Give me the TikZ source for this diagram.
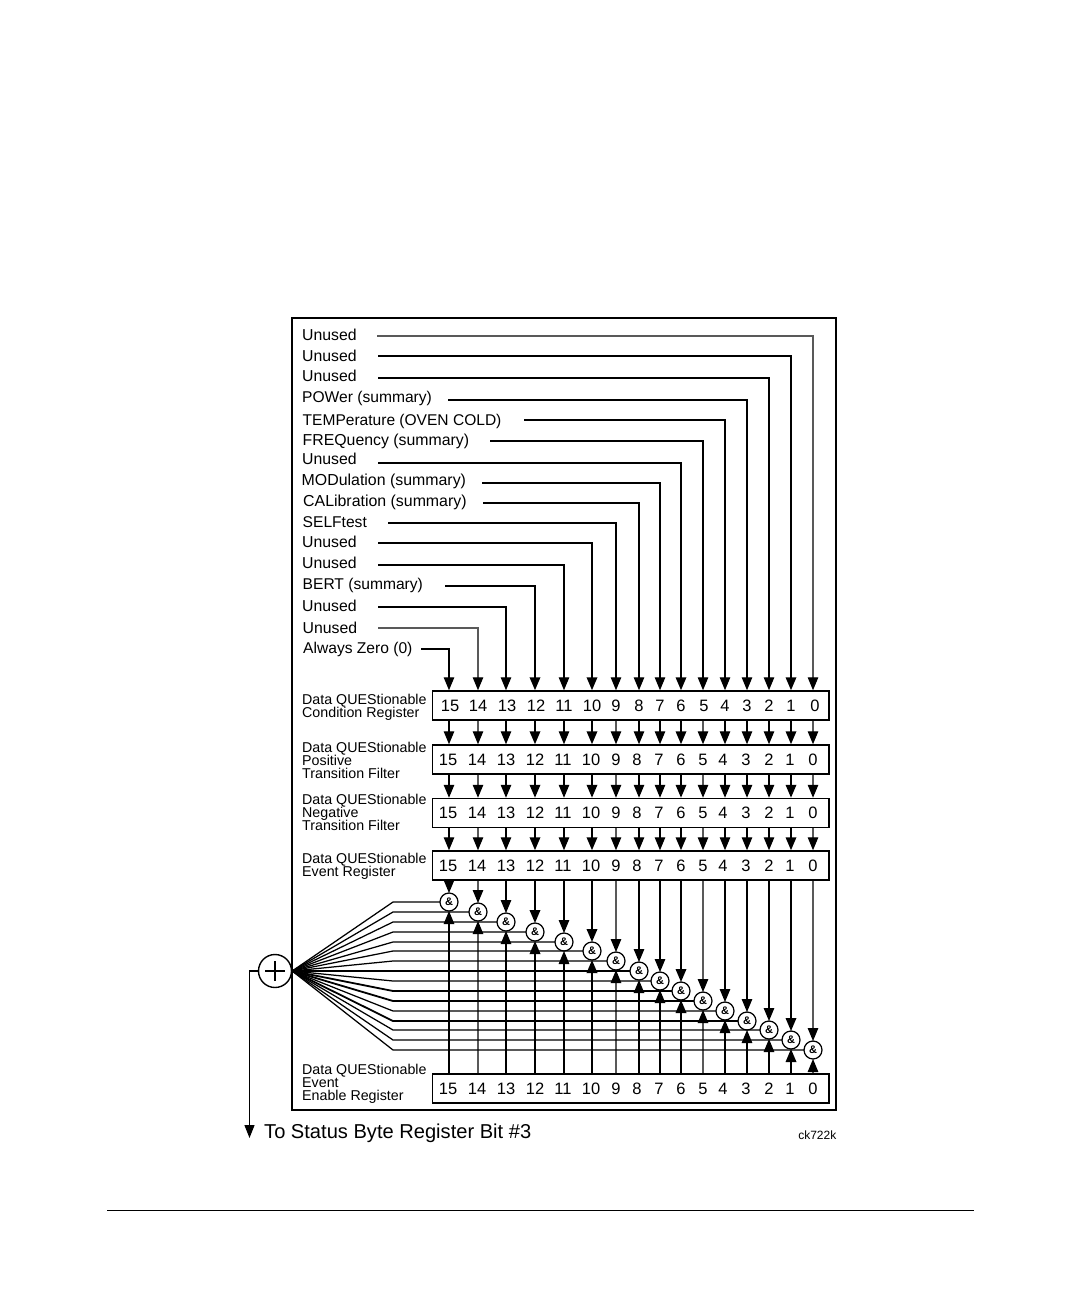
\documentclass[tikz,border=0pt]{standalone}
\usepackage{fontspec}
\setmainfont{Liberation Sans}
\usetikzlibrary{arrows.meta,calc}
\tikzset{
  conn/.style={line width=1.25pt,draw=black,line cap=butt},
  tipped/.style={conn,-{Triangle[width=10.5pt,length=13pt,black]}},
  frame/.style={draw=black,line width=1.5pt,inner sep=0pt,fill=white},
  regbox/.style={frame,minimum width=396.5pt,minimum height=29pt},
  toplabel/.style={anchor=base west,inner sep=0pt},
  reglabel/.style={anchor=base west,inner sep=0pt,align=left,font=\fontsize{14.25}{13}\selectfont},
  bitnum/.style={inner sep=0pt,font=\fontsize{16.5}{18}\selectfont,text height=11.8pt,text depth=0pt},
  andgate/.style={circle,draw=black,line width=1.25pt,fill=white,minimum size=18pt,inner sep=0pt,font=\bfseries\fontsize{11}{11}\selectfont},
  sumgate/.style={circle,draw=black,line width=1.4pt,fill=white,minimum size=33pt,inner sep=0pt},
}
\begin{document}
\begin{tikzpicture}[x=1pt,y=-1pt]
\useasboundingbox (0,0) rectangle (1080,1296);
\fill[white] (0,0) rectangle (1080,1296);
% outer frame
\node[frame,minimum width=544pt,minimum height=792pt] (outer) at (564,714) {};
% registers
\node[regbox] (r1) at (630.75,705.5) {};
\node[regbox] (r2) at (630.75,759.5) {};
\node[regbox] (r3) at (630.75,813) {};
\node[regbox] (r4) at (630.75,865.5) {};
\node[regbox] (r5) at (630.75,1088.5) {};
% column references
\foreach \b/\x in {15/449,14/478,13/506,12/535,11/564,10/592,9/616,8/639,7/660,6/681,5/703,4/725,3/747,2/769,1/791,0/813}
  \coordinate (c\b) at (\x,0);
\coordinate (fx) at (393,0);
% register numbers
\foreach \b/\xa/\xb in {15/450/448,14/478/477,13/507/506,12/536/535,11/564/563,10/592/591,9/616/616,8/639/637,7/660/659,6/681/681,5/704/703,4/725/723,3/747/746,2/769/769,1/791/790,0/815/813}{
  \node[bitnum] (na\b) at (\xa,706) {\b};
  \node[bitnum] (nb\b) at (\xb,760) {\b};
  \node[bitnum] (nc\b) at (\xb,813) {\b};
  \node[bitnum] (nd\b) at (\xb,866) {\b};
  \node[bitnum] (ne\b) at (\xb,1089) {\b};
}
% gates
\node[sumgate] (sum) at (275,971) {};
\draw[line width=1.6pt] ([xshift=-10pt]sum.center) -- ([xshift=10pt]sum.center);
\draw[line width=1.6pt] ([yshift=-10pt]sum.center) -- ([yshift=10pt]sum.center);
% gate wiring
\foreach \b/\y/\v/\k/\h in {15/902/1.25/100/1.25,14/912/1.2/65/1.25,13/922/1.2/100/1.25,12/932/1.8/100/1.25,11/942/1.2/100/1.25,10/951/1.8/100/1.25,9/961/1.2/65/1.25,8/971/1.25/100/1.25,7/981/1.2/100/1.25,6/991/1.8/100/1.8,5/1001/1.2/65/1.8,4/1011/1.2/100/1.25,3/1021/1.2/100/1.8,2/1030/1.25/100/1.25,1/1040/1.8/100/1.25,0/1050/1.2/65/1.25}{
  \coordinate (g\b) at (c\b |- 0,\y);
  \draw[conn,line width=\h pt] (g\b) -- (fx |- g\b) -- (sum.east);
  \draw[tipped,line width=\v pt,draw=black!\k] (c\b |- r4.south) -- ($(g\b)+(0,-9)$);
  \draw[tipped,line width=\v pt,draw=black!\k] (c\b |- r5.north) -- ($(g\b)+(0,9)$);
  \node[andgate] (and\b) at (g\b) {\&};
}
% register to register
\foreach \b/\v/\k in {15/1.25/100,14/1.2/65,13/1.2/100,12/1.8/100,11/1.2/100,10/1.8/100,9/1.2/65,8/1.25/100,7/1.2/100,6/1.8/100,5/1.2/65,4/1.2/100,3/1.2/100,2/1.25/100,1/1.8/100,0/1.2/65}{
  \draw[tipped,line width=\v pt,draw=black!\k] (c\b |- r1.south) -- (c\b |- r2.north);
  \draw[tipped,line width=\v pt,draw=black!\k] (c\b |- r2.south) -- (c\b |- r3.north);
  \draw[tipped,line width=\v pt,draw=black!\k] (c\b |- r3.south) -- (c\b |- r4.north);
}
% input labels
\foreach \b/\t/\fs/\lx/\ly/\sx/\sy/\v/\k in {
  0/Unused/15.8/302/340.3/377/336/1.2/65,
  1/Unused/15.8/302/361.3/378/356/1.8/100,
  2/Unused/15.8/302/381.3/378/378/1.25/100,
  3/POWer (summary)/15.6/302/402.3/448/400/1.2/100,
  4/TEMPerature (OVEN COLD)/15.55/302.5/425.3/524/420/1.2/100,
  5/FREQuency (summary)/15.85/302.5/445.3/490/441/1.25/100,
  6/Unused/15.8/302/464.3/378/463/1.8/100,
  7/MODulation (summary)/15.9/301.5/485.3/482/483/1.2/100,
  8/CALibration (summary)/15.9/303/506.3/483/503/1.25/100,
  9/SELFtest/15.6/302.5/527.3/388/523/1.2/100,
  10/Unused/15.8/302/547.3/378/543/1.8/100,
  11/Unused/15.8/302/568.3/378/565/1.2/100,
  12/BERT (summary)/15.6/302.5/589.3/445/586/1.8/100,
  13/Unused/15.8/302/611.3/378/607/1.2/100,
  14/Unused/15.8/302.5/633.3/378/628/1.2/65,
  15/Always Zero (0)/15.6/303/653.3/421/649/1.25/100}{
  \node[toplabel,font=\fontsize{\fs}{18}\selectfont] (lab\b) at (\lx,\ly) {\t};
  \coordinate (s\b) at (\sx,\sy);
  \draw[tipped,line width=\v pt,draw=black!\k] (s\b) -| (c\b |- r1.north);
}
% register labels
\node[reglabel] (l1) at (302,704) {Data QUEStionable};
\node[reglabel] (l1b) at (302,717) {Condition Register};
\node[reglabel] (l2) at (302,752) {Data QUEStionable};
\node[reglabel] (l2b) at (302,765) {Positive};
\node[reglabel] (l2c) at (302,778) {Transition Filter};
\node[reglabel] (l3) at (302,804) {Data QUEStionable};
\node[reglabel] (l3b) at (302,817) {Negative};
\node[reglabel] (l3c) at (302,830) {Transition Filter};
\node[reglabel] (l4) at (302,863) {Data QUEStionable};
\node[reglabel] (l4b) at (302,876) {Event Register};
\node[reglabel] (l5) at (302,1074) {Data QUEStionable};
\node[reglabel] (l5b) at (302,1087) {Event};
\node[reglabel] (l5c) at (302,1100) {Enable Register};
% output
\node[anchor=base west,inner sep=0pt,font=\fontsize{20.1}{22}\selectfont] (out) at (264,1138) {To Status Byte Register Bit \#3};
\coordinate (outx) at (249.5,0);
\draw[conn,-{Triangle[width=10pt,length=13pt]}] (sum.west) -- (outx |- sum.west) -- (outx |- out.base);
\node[anchor=base east,inner sep=0pt,font=\fontsize{12}{12}\selectfont] (code) at (836.5,1139) {ck722k};
% footer rule
\coordinate (ra) at (107,1210.5);
\coordinate (rb) at (974,1210.5);
\draw[line width=1pt] (ra) -- (rb);
\end{tikzpicture}
\end{document}
